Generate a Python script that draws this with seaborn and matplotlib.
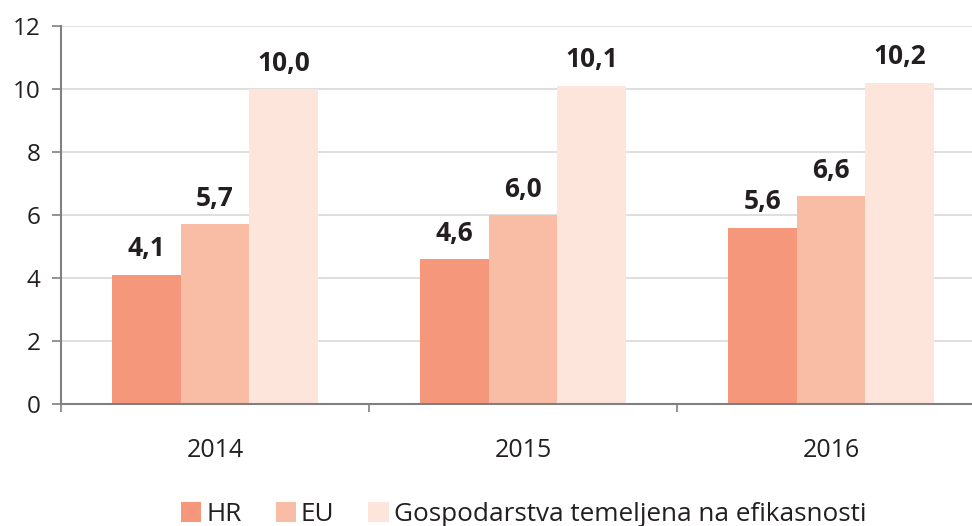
import numpy as np
import pandas as pd
import seaborn as sns
import matplotlib.pyplot as plt
from matplotlib.patches import Patch

years = ["2014", "2015", "2016"]
series = ["HR", "EU", "Gospodarstva temeljena na efikasnosti"]
hr_values = [4.1, 4.6, 5.6]
eu_values = [5.7, 6.0, 6.6]
ge_values = [10.0, 10.1, 10.2]
colors = ["#F5977A", "#F9BDA5", "#FDE5DB"]
y_ticks = [0, 2, 4, 6, 8, 10, 12]

df = pd.DataFrame({
    "year": years * 3,
    "series": [series[0]] * 3 + [series[1]] * 3 + [series[2]] * 3,
    "value": hr_values + eu_values + ge_values,
})

sns.set_style("white")
plt.rcParams["font.family"] = ["Open Sans", "DejaVu Sans"]
text_color = "#231F20"

fig = plt.figure(figsize=(9.72, 5.26), dpi=100)
ax = fig.add_axes([61 / 972, 1 - 404 / 526, 1 - 61 / 972, 378 / 526])

sns.barplot(data=df, x="year", y="value", hue="series", hue_order=series,
            palette=colors, width=0.667, gap=0, saturation=1, ax=ax,
            legend=False, linewidth=0)

# value labels, decimal comma
for container in ax.containers:
    ax.bar_label(container, labels=[f"{v:.1f}".replace(".", ",") for v in container.datavalues],
                 padding=9, fontsize=19, fontweight="bold", color=text_color)

ax.set_ylim(0, 12)
ax.set_xlim(-0.5, 2.458)
ax.set_yticks(y_ticks)
ax.yaxis.grid(True, color="#D9D9D9", linewidth=1.2)
ax.set_axisbelow(True)
ax.set_xlabel("")
ax.set_ylabel("")

for side in ["top", "right"]:
    ax.spines[side].set_visible(False)
for side in ["left", "bottom"]:
    ax.spines[side].set_color("#808080")
    ax.spines[side].set_linewidth(1.5)

ax.tick_params(axis="y", left=True, length=6.5, width=1.2, color="#808080",
               labelsize=17.5, labelcolor=text_color, pad=8)
ax.tick_params(axis="x", bottom=False, labelsize=18, labelcolor=text_color, pad=21)
ax.set_xticks([-0.5, 0.5, 1.5], minor=True)
ax.tick_params(axis="x", which="minor", bottom=True, length=6, width=1.2, color="#808080")

handles = [Patch(facecolor=c, edgecolor="none") for c in colors]
fig.legend(handles, series, loc="center", bbox_to_anchor=(0.5386, 0.022), ncol=3,
           frameon=False, fontsize=18.8, handlelength=0.77, handleheight=0.77,
           handletextpad=0.2, columnspacing=1.3, labelcolor=text_color,
           borderpad=0.1)

fig.savefig("out.png", dpi=100)
